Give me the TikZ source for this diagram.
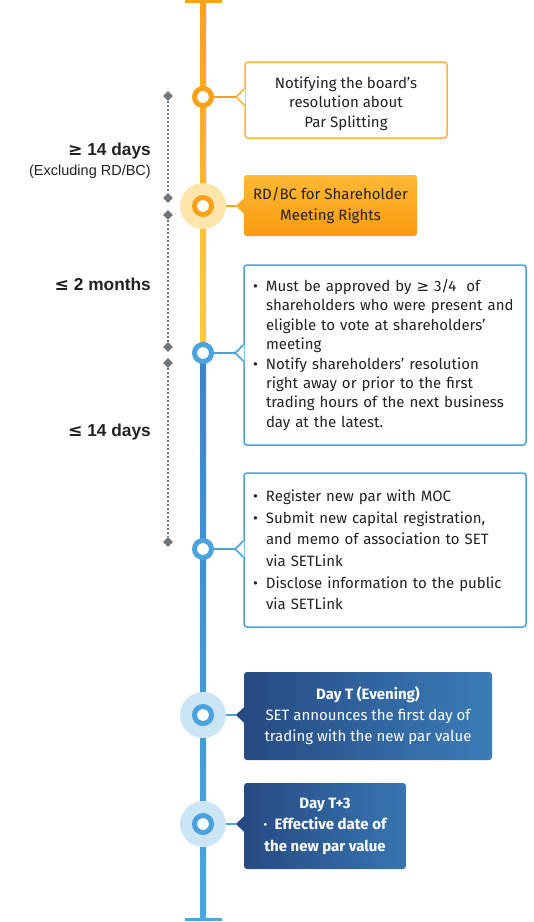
\documentclass[tikz,border=0pt]{standalone}
\usepackage{fontspec}
\setmainfont{Fira Sans}
\newfontfamily\symfont{DejaVu Sans}
\newfontfamily\labelfont{Liberation Sans}
\usetikzlibrary{positioning,shapes.geometric}

\definecolor{orangeA}{HTML}{F8A11B}
\definecolor{orangeB}{HTML}{FDB631}
\definecolor{orangeL}{HTML}{FDB23A}
\definecolor{yellowA}{HTML}{FDBE3E}
\definecolor{yellowB}{HTML}{FFC948}
\definecolor{haloO}{HTML}{FDE5AB}
\definecolor{blueA}{HTML}{3E84C8}
\definecolor{blueB}{HTML}{4AA7DD}
\definecolor{blueL}{HTML}{4AA3DC}
\definecolor{haloB}{HTML}{CBE5F4}
\definecolor{navyA}{HTML}{264A83}
\definecolor{navyB}{HTML}{3B7DB8}
\definecolor{boxO1}{HTML}{FFB936}
\definecolor{boxO2}{HTML}{F99B0F}
\definecolor{markgray}{HTML}{70757A}
\definecolor{txt}{HTML}{222222}

\newcommand{\gesym}{{\symfont ≥}}
\newcommand{\lesym}{{\symfont ≤}}
\newcommand{\bul}[1]{\noindent\llap{\makebox[13pt][l]{•}}#1\par}

\begin{document}
\begin{tikzpicture}[x=1pt,y=-1pt,
  ring/.style={draw=#1,line width=5pt,fill=white},
  halo/.style={fill=#1},
  link/.style={draw=#1,line width=1.5pt},
  plainbox/.style={draw=#1,line width=1.5pt,fill=white,rounded corners=3pt,
    font=\fontsize{15}{19.4}\selectfont,text=txt},
  markbox/.style={diamond,fill=markgray,minimum size=10pt,inner sep=0pt},
  span/.style={draw=markgray,line width=1.3pt,dash pattern=on 1.3pt off 2.7pt},
  lab/.style={anchor=east,inner sep=0pt,text=txt,font=\labelfont\bfseries\fontsize{17.3}{20}\selectfont}]
  \useasboundingbox (0,0) rectangle (534,922);

  % timeline
  \shade[top color=orangeA,bottom color=orangeB] (200,0) rectangle (206,206);
  \shade[top color=yellowA,bottom color=yellowB] (200,206) rectangle (206,353);
  \shade[top color=blueA,bottom color=blueB] (200,353) rectangle (206,919);
  \draw[orangeA,line width=3pt] (185,1.5) -- (222,1.5);
  \draw[blueB,line width=3pt] (185,919.5) -- (222,919.5);

  \coordinate (P1) at (203,97);
  \coordinate (P2) at (203,206);
  \coordinate (P3) at (203,353);
  \coordinate (P4) at (203,549);
  \coordinate (P5) at (203,715);
  \coordinate (P6) at (203,824);

  % boxes
  \node[plainbox=orangeL,minimum width=202pt,minimum height=76pt,align=center] (notify) at (346,100)
    {\rule{0pt}{19pt}Notifying the board’s\\resolution about\\Par Splitting};
  \node[top color=boxO1,bottom color=boxO2,rounded corners=3pt,minimum width=173pt,minimum height=61pt,
    align=center,text=txt,font=\fontsize{15}{21.5}\selectfont] (rdbc) at (330.5,205.5)
    {RD/BC for Shareholder\\Meeting Rights};
  \node[plainbox=blueL,minimum width=282pt,minimum height=180pt,text width=264pt,align=left] (approve) at (385,355)
    {\leftskip=13pt
     \bul{Must be approved by \gesym\ 3/4~ of\\shareholders who were present and\\eligible to vote at shareholders’\\meeting}
     \bul{Notify shareholders’ resolution\\right away or prior to the first\\trading hours of the next business\\day at the latest.}};
  \node[plainbox=blueL,minimum width=282pt,minimum height=154pt,text width=264pt,align=left,
    font=\fontsize{15}{21.6}\selectfont] (register) at (385,550)
    {\leftskip=13pt
     \bul{Register new par with MOC}
     \bul{Submit new capital registration,\\and memo of association to SET\\via SETLink}
     \bul{Disclose information to the public\\via SETLink}};
  \node[left color=navyA,right color=navyB,rounded corners=3pt,minimum width=248pt,minimum height=88pt,
    align=center,text=white,font=\fontsize{15}{21}\selectfont] (dayT) at (368,716)
    {\textbf{Day T (Evening)}\\SET announces the first day of\\trading with the new par value};
  \node[left color=navyA,right color=navyB!85!navyA,rounded corners=3pt,minimum width=162pt,minimum height=86pt,
    align=center,text=white,font=\bfseries\fontsize{15}{21.5}\selectfont] (dayTT) at (325,826)
    {Day T+3\\·\enspace Effective date of\\the new par value};

  % notches
  \coordinate (T1) at ([xshift=-8pt]notify.west |- P1);
  \coordinate (T2) at ([xshift=-8pt]rdbc.west |- P2);
  \coordinate (T3) at ([xshift=-8pt]approve.west |- P3);
  \coordinate (T4) at ([xshift=-8pt]register.west |- P4);
  \coordinate (T5) at ([xshift=-8pt]dayT.west |- P5);
  \coordinate (T6) at ([xshift=-8pt]dayTT.west |- P6);
  \fill[white] (T1) ++(9,-8) -- (T1) -- ++(9,8) -- cycle;
  \draw[link=orangeL] (T1) ++(8,-8) -- (T1) -- ++(8,8);
  \fill[boxO1!50!boxO2] (T2) ++(8.5,-8) -- (T2) -- ++(8.5,8) -- cycle;
  \fill[white] (T3) ++(9,-8) -- (T3) -- ++(9,8) -- cycle;
  \draw[link=blueL] (T3) ++(8,-8) -- (T3) -- ++(8,8);
  \fill[white] (T4) ++(9,-8) -- (T4) -- ++(9,8) -- cycle;
  \draw[link=blueL] (T4) ++(8,-8) -- (T4) -- ++(8,8);
  \fill[navyA] (T5) ++(8.5,-8) -- (T5) -- ++(8.5,8) -- cycle;
  \fill[navyA] (T6) ++(8.5,-8) -- (T6) -- ++(8.5,8) -- cycle;

  % connectors
  \draw[link=orangeA] (P1) -- (T1);
  \draw[link=orangeA] (P2) -- (T2);
  \draw[link=blueL] (P3) -- (T3);
  \draw[link=blueL] (P4) -- (T4);
  \draw[link=blueL] (P5) -- (T5);
  \draw[link=blueL] (P6) -- (T6);

  % halos and rings
  \fill[halo=haloO] (P2) circle (23);
  \fill[halo=haloB] (P5) circle (23);
  \fill[halo=haloB] (P6) circle (23);
  \draw[ring=orangeA] (P1) circle (8.5);
  \draw[ring=orangeA] (P2) circle (8.5);
  \draw[ring=blueL] (P3) circle (8.5);
  \draw[ring=blueL] (P4) circle (8.5);
  \draw[ring=blueL] (P5) circle (8.5);
  \draw[ring=blueL] (P6) circle (8.5);

  % spans on the left
  \node[markbox] (M1) at (168,96) {};
  \node[markbox] (M2) at (168,198) {};
  \node[markbox] (M3) at (168,215) {};
  \node[markbox] (M4) at (168,347) {};
  \node[markbox] (M5) at (168,363) {};
  \node[markbox] (M6) at (168,542) {};
  \draw[span] (M1) -- (M2);
  \draw[span] (M3) -- (M4);
  \draw[span] (M5) -- (M6);

  \node[lab] (L1) at (151,151) {\gesym\ 14 days};
  \node[lab,font=\labelfont\fontsize{14.5}{16}\selectfont] (L2) at (151,172) {(Excluding RD/BC)};
  \node[lab] (L3) at (151,284) {\lesym\ 2 months};
  \node[lab] (L4) at (151,432) {\lesym\ 14 days};
\end{tikzpicture}
\end{document}
